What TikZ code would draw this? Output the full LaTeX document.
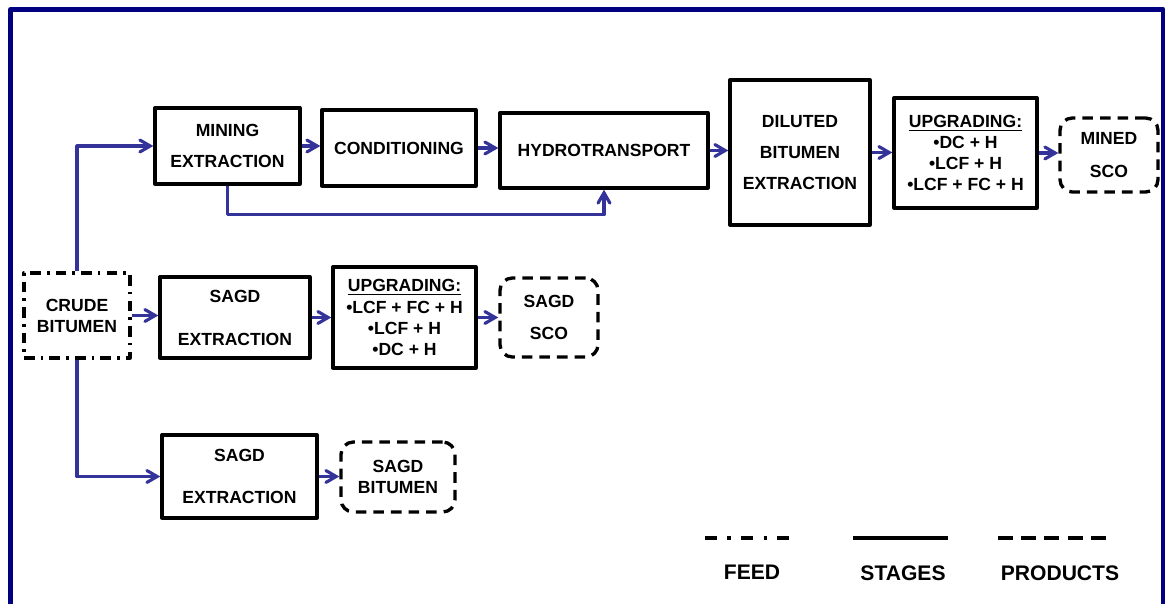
\documentclass[tikz,border=0pt]{standalone}
\usepackage{fontspec}
\setmainfont{Liberation Sans}
\usepackage{xcolor}
\usepackage{tikz}
\usetikzlibrary{arrows}
\usetikzlibrary{calc}
\definecolor{flowblue}{RGB}{51,51,153}
\definecolor{framenavy}{RGB}{0,0,128}
\tikzset{>=angle 60}
\tikzset{
  stage/.style={draw, line width=1.9pt, align=center, inner sep=0pt,
    font=\bfseries\fontsize{10}{12}\selectfont},
  feedbox/.style={stage, dash pattern=on 6pt off 3.5pt on 1.5pt off 3.5pt},
  productbox/.style={stage, rounded corners=7pt, dash pattern=on 6pt off 4pt},
  flow/.style={->, draw=flowblue, line width=1.8pt},
  legendtext/.style={font=\bfseries\fontsize{12}{14}\selectfont}
}

\begin{document}
\begin{tikzpicture}[line join=round,x=0.02cm,y=-0.02cm]
	\useasboundingbox (0,0) rectangle (1166,604);
	\draw[color=framenavy,line width=2.8pt] (10.5,604) |- (1163,9.5) -- (1163,604);
	\node[feedbox,minimum width=2.12cm,minimum height=1.7cm] (crude) at (77,315.5) {CRUDE\\BITUMEN};
	\node[stage,minimum width=2.9cm,minimum height=1.52cm] (mining) at (227.5,146) {MINING\\[0.2cm]EXTRACTION};
	\node[stage,minimum width=3.08cm,minimum height=1.52cm] (cond) at (399,148) {CONDITIONING};
	\node[stage,minimum width=4.16cm,minimum height=1.5cm] (hydro) at (604,150.5) {HYDROTRANSPORT};
	\node[stage,minimum width=2.8cm,minimum height=2.9cm] (dil) at (800,152.5) {DILUTED\\[0.2cm]BITUMEN\\[0.2cm]EXTRACTION};
	\node[stage,minimum width=2.86cm,minimum height=2.2cm] (upgmined) at (965.5,153) {\underline{UPGRADING:}\\\textbullet DC + H\\\textbullet LCF + H\\\textbullet LCF + FC + H};
	\node[productbox,minimum width=1.96cm,minimum height=1.48cm] (minedsco) at (1109,155) {MINED\\[0.23cm]SCO};
	\node[stage,minimum width=3.0cm,minimum height=1.62cm] (sagdone) at (235,317.5) {SAGD\\[0.44cm]EXTRACTION};
	\node[stage,minimum width=2.86cm,minimum height=2.02cm] (upgsagd) at (404.5,317.5) {\underline{UPGRADING:}\\\textbullet LCF + FC + H\\\textbullet LCF + H\\\textbullet DC + H};
	\node[productbox,minimum width=1.96cm,minimum height=1.58cm] (sagdsco) at (549,317.5) {SAGD\\[0.23cm]SCO};
	\node[stage,minimum width=3.1cm,minimum height=1.66cm] (sagdtwo) at (239.5,476.5) {SAGD\\[0.42cm]EXTRACTION};
	\node[productbox,minimum width=2.28cm,minimum height=1.4cm] (sagdbit) at (398,477) {SAGD\\BITUMEN};
	\draw[flow] (crude.north) |- (mining.west);
	\draw[flow] (crude.east) -- (crude.east -| sagdone.west);
	\draw[flow] (crude.south) |- (sagdtwo.west);
	\draw[flow] (mining.east) -- (mining.east -| cond.west);
	\draw[flow] (cond.east) -- (cond.east -| hydro.west);
	\draw[flow] (hydro.east) -- (hydro.east -| dil.west);
	\draw[flow] (mining.south) -- ++(0,29) -| (hydro.south);
	\draw[flow] (dil.east) -- (dil.east -| upgmined.west);
	\draw[flow] (upgmined.east) -- (upgmined.east -| minedsco.west);
	\draw[flow] (sagdone.east) -- (sagdone.east -| upgsagd.west);
	\draw[flow] (upgsagd.east) -- (upgsagd.east -| sagdsco.west);
	\draw[flow] (sagdtwo.east) -- (sagdtwo.east -| sagdbit.west);
	\coordinate (feedA) at (705,538);
	\coordinate (feedB) at (792,538);
	\coordinate (stageA) at (853,538);
	\coordinate (stageB) at (948,538);
	\coordinate (prodA) at (998,538);
	\coordinate (prodB) at (1106,538);
	\draw[line width=1.8pt,dash pattern=on 6.8pt off 5.9pt on 2pt off 5.9pt] (feedA) -- (feedB);
	\draw[line width=2.8pt] (stageA) -- (stageB);
	\draw[line width=1.8pt,dash pattern=on 8.5pt off 4.7pt] (prodA) -- (prodB);
	\node[legendtext] (feedlbl) at (752,572) {FEED};
	\node[legendtext] (stagelbl) at (903,573) {STAGES};
	\node[legendtext] (prodlbl) at (1060,573) {PRODUCTS};
\end{tikzpicture}
\end{document}
